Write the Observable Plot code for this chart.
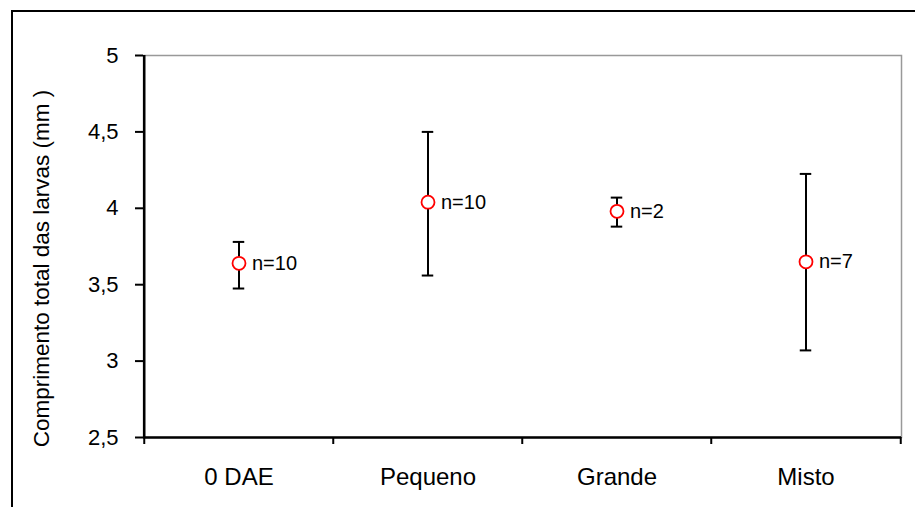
<!DOCTYPE html>
<html><head><meta charset="utf-8">
<script src="https://cdn.jsdelivr.net/npm/d3@7"></script>
<script src="https://cdn.jsdelivr.net/npm/@observablehq/plot@0.6"></script>
<style>
body{margin:0;background:#fff;}
#wrap{position:relative;width:915px;height:507px;overflow:hidden;}
#border{position:absolute;left:11px;top:10px;width:1000px;height:1000px;border-left:2px solid #000;border-top:2px solid #000;}
#wrap svg{position:absolute;left:0;top:0;}
</style></head><body><div id="wrap"><div id="border"></div></div>
<script>
const categories = ["0 DAE", "Pequeno", "Grande", "Misto"];
const means = [3.64, 4.04, 3.98, 3.65];
const lows = [3.475, 3.56, 3.88, 3.07];
const highs = [3.78, 4.50, 4.07, 4.225];
const ns = [10, 10, 2, 7];
const yTicks = [2.5, 3, 3.5, 4, 4.5, 5];
const yTitle = "Comprimento total das larvas (mm )";

const data = categories.map((c, i) => ({cat: c, mean: means[i], lo: lows[i], hi: highs[i], n: "n=" + ns[i]}));
const W = 915, H = 507, mL = 143, mR = 14, mT = 55, mB = 70;
const bw = (W - mL - mR) / categories.length;
const capInset = (bw - 12) / 2;

const chart = Plot.plot({
  width: W, height: H, marginLeft: mL, marginRight: mR, marginTop: mT, marginBottom: mB,
  style: {fontFamily: "'Liberation Sans', Arial, sans-serif", background: "transparent", color: "#000", overflow: "visible"},
  x: {domain: categories, padding: 0, axis: null},
  y: {domain: [2.5, 5], axis: null},
  marks: [
    Plot.frame({stroke: "#999", strokeWidth: 1.5}),
    Plot.ruleY([2.5], {stroke: "#000", strokeWidth: 2.5}),
    Plot.ruleX([categories[0]], {dx: -bw / 2, y1: 2.5, y2: 5, stroke: "#000", strokeWidth: 2.5}),
    Plot.axisY({ticks: yTicks, tickSize: 8, tickPadding: 17, tickFormat: d => String(d).replace(".", ","), fontSize: 22, strokeWidth: 2, label: null}),
    Plot.axisX({tickSize: 7, tickFormat: () => "", dx: -bw / 2, strokeWidth: 2, label: null}),
    Plot.axisX({ticks: [categories[categories.length - 1]], tickSize: 7, tickFormat: () => "", dx: bw / 2, strokeWidth: 2, label: null}),
    Plot.axisX({tickSize: 0, tickPadding: 30, fontSize: 24, label: null}),
    Plot.ruleX(data, {x: "cat", y1: "lo", y2: "hi", stroke: "#000", strokeWidth: 2}),
    Plot.tickY(data, {x: "cat", y: "lo", insetLeft: capInset, insetRight: capInset, stroke: "#000", strokeWidth: 2}),
    Plot.tickY(data, {x: "cat", y: "hi", insetLeft: capInset, insetRight: capInset, stroke: "#000", strokeWidth: 2}),
    Plot.dot(data, {x: "cat", y: "mean", r: 6.5, stroke: "red", fill: "white", strokeWidth: 1.8}),
    Plot.text(data, {x: "cat", y: "mean", text: "n", dx: 13, textAnchor: "start", fontSize: 20}),
    Plot.text([yTitle], {text: d => d, frameAnchor: "left", textAnchor: "middle", rotate: -90, dx: -102, dy: 22, fontSize: 22.5})
  ]
});
document.getElementById("wrap").appendChild(chart);
</script>
</body></html>
